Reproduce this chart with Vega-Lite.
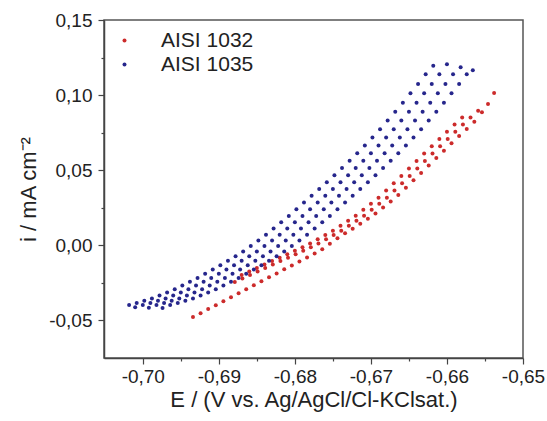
{
  "$schema": "https://vega.github.io/schema/vega-lite/v6.json",
  "width": 419,
  "height": 338,
  "autosize": {"type": "none"},
  "padding": {"left": 104, "top": 20, "right": 24, "bottom": 63},
  "background": "white",
  "datasets": {
    "r1032": [
      {"E": -0.6870, "i": -0.0200}, {"E": -0.6860, "i": -0.0177}, {"E": -0.6850, "i": -0.0153}, {"E": -0.6840, "i": -0.0130},
      {"E": -0.6830, "i": -0.0107}, {"E": -0.6820, "i": -0.0085}, {"E": -0.6810, "i": -0.0062}, {"E": -0.6800, "i": -0.0038},
      {"E": -0.6790, "i": -0.0014}, {"E": -0.6780, "i": 0.0010}, {"E": -0.6770, "i": 0.0038}, {"E": -0.6760, "i": 0.0067},
      {"E": -0.6750, "i": 0.0095}, {"E": -0.6740, "i": 0.0128}, {"E": -0.6730, "i": 0.0162}, {"E": -0.6720, "i": 0.0195},
      {"E": -0.6710, "i": 0.0235}, {"E": -0.6700, "i": 0.0275}, {"E": -0.6690, "i": 0.0315}, {"E": -0.6680, "i": 0.0363},
      {"E": -0.6670, "i": 0.0412}, {"E": -0.6660, "i": 0.0460}, {"E": -0.6650, "i": 0.0510}, {"E": -0.6640, "i": 0.0560},
      {"E": -0.6630, "i": 0.0610}, {"E": -0.6620, "i": 0.0658}, {"E": -0.6610, "i": 0.0707}, {"E": -0.6600, "i": 0.0755},
      {"E": -0.6590, "i": 0.0803}, {"E": -0.6580, "i": 0.0850},
      {"E": -0.6879, "i": -0.0247}, {"E": -0.6869, "i": -0.0223}, {"E": -0.6859, "i": -0.0200}, {"E": -0.6849, "i": -0.0177},
      {"E": -0.6839, "i": -0.0153}, {"E": -0.6829, "i": -0.0130}, {"E": -0.6819, "i": -0.0107}, {"E": -0.6809, "i": -0.0085},
      {"E": -0.6799, "i": -0.0062}, {"E": -0.6789, "i": -0.0038}, {"E": -0.6779, "i": -0.0014}, {"E": -0.6769, "i": 0.0010},
      {"E": -0.6759, "i": 0.0038}, {"E": -0.6749, "i": 0.0067}, {"E": -0.6739, "i": 0.0095}, {"E": -0.6729, "i": 0.0128},
      {"E": -0.6719, "i": 0.0162}, {"E": -0.6709, "i": 0.0195}, {"E": -0.6699, "i": 0.0235}, {"E": -0.6689, "i": 0.0275},
      {"E": -0.6679, "i": 0.0315}, {"E": -0.6669, "i": 0.0363}, {"E": -0.6659, "i": 0.0412}, {"E": -0.6649, "i": 0.0460},
      {"E": -0.6639, "i": 0.0510}, {"E": -0.6629, "i": 0.0560}, {"E": -0.6619, "i": 0.0610}, {"E": -0.6609, "i": 0.0658},
      {"E": -0.6599, "i": 0.0707}, {"E": -0.6589, "i": 0.0755}, {"E": -0.6579, "i": 0.0803}, {"E": -0.6569, "i": 0.0850},
      {"E": -0.6559, "i": 0.0895},
      {"E": -0.6934, "i": -0.0480}, {"E": -0.6924, "i": -0.0454}, {"E": -0.6914, "i": -0.0427}, {"E": -0.6904, "i": -0.0401},
      {"E": -0.6894, "i": -0.0374}, {"E": -0.6884, "i": -0.0348}, {"E": -0.6874, "i": -0.0321}, {"E": -0.6864, "i": -0.0295},
      {"E": -0.6854, "i": -0.0268}, {"E": -0.6844, "i": -0.0242}, {"E": -0.6834, "i": -0.0215}, {"E": -0.6824, "i": -0.0189},
      {"E": -0.6814, "i": -0.0162}, {"E": -0.6804, "i": -0.0136}, {"E": -0.6794, "i": -0.0109}, {"E": -0.6784, "i": -0.0083},
      {"E": -0.6774, "i": -0.0056}, {"E": -0.6764, "i": -0.0028}, {"E": -0.6754, "i": 0.0008}, {"E": -0.6744, "i": 0.0045},
      {"E": -0.6734, "i": 0.0078}, {"E": -0.6724, "i": 0.0108}, {"E": -0.6714, "i": 0.0142}, {"E": -0.6704, "i": 0.0175},
      {"E": -0.6694, "i": 0.0211}, {"E": -0.6684, "i": 0.0251}, {"E": -0.6674, "i": 0.0291}, {"E": -0.6664, "i": 0.0334},
      {"E": -0.6654, "i": 0.0382}, {"E": -0.6644, "i": 0.0431}, {"E": -0.6634, "i": 0.0480}, {"E": -0.6624, "i": 0.0530},
      {"E": -0.6614, "i": 0.0580}, {"E": -0.6604, "i": 0.0629}, {"E": -0.6594, "i": 0.0678}, {"E": -0.6584, "i": 0.0726},
      {"E": -0.6574, "i": 0.0774}, {"E": -0.6564, "i": 0.0822}, {"E": -0.6554, "i": 0.0885}, {"E": -0.6546, "i": 0.0940},
      {"E": -0.6538, "i": 0.1013}
    ],
    "r1035": [
      {"E": -0.7018, "i": -0.0400}, {"E": -0.7008, "i": -0.0386}, {"E": -0.6998, "i": -0.0371}, {"E": -0.6988, "i": -0.0356},
      {"E": -0.6978, "i": -0.0336}, {"E": -0.6968, "i": -0.0316}, {"E": -0.6958, "i": -0.0295}, {"E": -0.6948, "i": -0.0270},
      {"E": -0.6938, "i": -0.0245}, {"E": -0.6928, "i": -0.0219}, {"E": -0.6918, "i": -0.0191}, {"E": -0.6908, "i": -0.0163},
      {"E": -0.6898, "i": -0.0134}, {"E": -0.6888, "i": -0.0104}, {"E": -0.6878, "i": -0.0074}, {"E": -0.6868, "i": -0.0043},
      {"E": -0.6858, "i": -0.0006}, {"E": -0.6848, "i": 0.0031}, {"E": -0.6838, "i": 0.0068}, {"E": -0.6828, "i": 0.0110},
      {"E": -0.6818, "i": 0.0152}, {"E": -0.6808, "i": 0.0194}, {"E": -0.6798, "i": 0.0239}, {"E": -0.6788, "i": 0.0284},
      {"E": -0.6778, "i": 0.0329}, {"E": -0.6768, "i": 0.0374}, {"E": -0.6758, "i": 0.0419}, {"E": -0.6748, "i": 0.0465},
      {"E": -0.6738, "i": 0.0513}, {"E": -0.6728, "i": 0.0561}, {"E": -0.6718, "i": 0.0611}, {"E": -0.6708, "i": 0.0664},
      {"E": -0.6698, "i": 0.0717}, {"E": -0.6688, "i": 0.0772}, {"E": -0.6678, "i": 0.0830}, {"E": -0.6668, "i": 0.0888},
      {"E": -0.6658, "i": 0.0948}, {"E": -0.6648, "i": 0.1011}, {"E": -0.6638, "i": 0.1074}, {"E": -0.6628, "i": 0.1139},
      {"E": -0.6618, "i": 0.1195},
      {"E": -0.7010, "i": -0.0415},
      {"E": -0.7000, "i": -0.0400}, {"E": -0.6990, "i": -0.0386}, {"E": -0.6980, "i": -0.0371}, {"E": -0.6970, "i": -0.0356},
      {"E": -0.6960, "i": -0.0336}, {"E": -0.6950, "i": -0.0316}, {"E": -0.6940, "i": -0.0295}, {"E": -0.6930, "i": -0.0270},
      {"E": -0.6920, "i": -0.0245}, {"E": -0.6910, "i": -0.0219}, {"E": -0.6900, "i": -0.0191}, {"E": -0.6890, "i": -0.0163},
      {"E": -0.6880, "i": -0.0134}, {"E": -0.6870, "i": -0.0104}, {"E": -0.6860, "i": -0.0074}, {"E": -0.6850, "i": -0.0043},
      {"E": -0.6840, "i": -0.0006}, {"E": -0.6830, "i": 0.0031}, {"E": -0.6820, "i": 0.0068}, {"E": -0.6810, "i": 0.0110},
      {"E": -0.6800, "i": 0.0152}, {"E": -0.6790, "i": 0.0194}, {"E": -0.6780, "i": 0.0239}, {"E": -0.6770, "i": 0.0284},
      {"E": -0.6760, "i": 0.0329}, {"E": -0.6750, "i": 0.0374}, {"E": -0.6740, "i": 0.0419}, {"E": -0.6730, "i": 0.0465},
      {"E": -0.6720, "i": 0.0513}, {"E": -0.6710, "i": 0.0561}, {"E": -0.6700, "i": 0.0611}, {"E": -0.6690, "i": 0.0664},
      {"E": -0.6680, "i": 0.0717}, {"E": -0.6670, "i": 0.0772}, {"E": -0.6660, "i": 0.0830}, {"E": -0.6650, "i": 0.0888},
      {"E": -0.6640, "i": 0.0948}, {"E": -0.6630, "i": 0.1011}, {"E": -0.6620, "i": 0.1074}, {"E": -0.6610, "i": 0.1139},
      {"E": -0.6600, "i": 0.1205},
      {"E": -0.6992, "i": -0.0418},
      {"E": -0.6982, "i": -0.0400}, {"E": -0.6972, "i": -0.0386}, {"E": -0.6962, "i": -0.0371}, {"E": -0.6952, "i": -0.0356},
      {"E": -0.6942, "i": -0.0336}, {"E": -0.6932, "i": -0.0316}, {"E": -0.6922, "i": -0.0295}, {"E": -0.6912, "i": -0.0270},
      {"E": -0.6902, "i": -0.0245}, {"E": -0.6892, "i": -0.0219}, {"E": -0.6882, "i": -0.0191}, {"E": -0.6872, "i": -0.0163},
      {"E": -0.6862, "i": -0.0134}, {"E": -0.6852, "i": -0.0104}, {"E": -0.6842, "i": -0.0074}, {"E": -0.6832, "i": -0.0043},
      {"E": -0.6822, "i": -0.0006}, {"E": -0.6812, "i": 0.0031}, {"E": -0.6802, "i": 0.0068}, {"E": -0.6792, "i": 0.0110},
      {"E": -0.6782, "i": 0.0152}, {"E": -0.6772, "i": 0.0194}, {"E": -0.6762, "i": 0.0239}, {"E": -0.6752, "i": 0.0284},
      {"E": -0.6742, "i": 0.0329}, {"E": -0.6732, "i": 0.0374}, {"E": -0.6722, "i": 0.0419}, {"E": -0.6712, "i": 0.0465},
      {"E": -0.6702, "i": 0.0513}, {"E": -0.6692, "i": 0.0561}, {"E": -0.6682, "i": 0.0611}, {"E": -0.6672, "i": 0.0664},
      {"E": -0.6662, "i": 0.0717}, {"E": -0.6652, "i": 0.0772}, {"E": -0.6642, "i": 0.0830}, {"E": -0.6632, "i": 0.0888},
      {"E": -0.6622, "i": 0.0948}, {"E": -0.6612, "i": 0.1011}, {"E": -0.6602, "i": 0.1074}, {"E": -0.6592, "i": 0.1139},
      {"E": -0.6582, "i": 0.1185},
      {"E": -0.6974, "i": -0.0420},
      {"E": -0.6964, "i": -0.0400}, {"E": -0.6954, "i": -0.0386}, {"E": -0.6944, "i": -0.0371}, {"E": -0.6934, "i": -0.0356},
      {"E": -0.6924, "i": -0.0336}, {"E": -0.6914, "i": -0.0316}, {"E": -0.6904, "i": -0.0295}, {"E": -0.6894, "i": -0.0270},
      {"E": -0.6884, "i": -0.0245}, {"E": -0.6874, "i": -0.0219}, {"E": -0.6864, "i": -0.0191}, {"E": -0.6854, "i": -0.0163},
      {"E": -0.6844, "i": -0.0134}, {"E": -0.6834, "i": -0.0104}, {"E": -0.6824, "i": -0.0074}, {"E": -0.6814, "i": -0.0043},
      {"E": -0.6804, "i": -0.0006}, {"E": -0.6794, "i": 0.0031}, {"E": -0.6784, "i": 0.0068}, {"E": -0.6774, "i": 0.0110},
      {"E": -0.6764, "i": 0.0152}, {"E": -0.6754, "i": 0.0194}, {"E": -0.6744, "i": 0.0239}, {"E": -0.6734, "i": 0.0284},
      {"E": -0.6724, "i": 0.0329}, {"E": -0.6714, "i": 0.0374}, {"E": -0.6704, "i": 0.0419}, {"E": -0.6694, "i": 0.0465},
      {"E": -0.6684, "i": 0.0513}, {"E": -0.6674, "i": 0.0561}, {"E": -0.6664, "i": 0.0611}, {"E": -0.6654, "i": 0.0664},
      {"E": -0.6644, "i": 0.0717}, {"E": -0.6634, "i": 0.0772}, {"E": -0.6624, "i": 0.0830}, {"E": -0.6614, "i": 0.0888},
      {"E": -0.6604, "i": 0.0948}, {"E": -0.6594, "i": 0.1011}, {"E": -0.6584, "i": 0.1074}, {"E": -0.6574, "i": 0.1139},
      {"E": -0.6566, "i": 0.1165}
    ]
  },
  "encoding": {
    "x": {
      "field": "E", "type": "quantitative",
      "scale": {"domain": [-0.7051, -0.65], "nice": false, "zero": false},
      "axis": {
        "title": "E / (V vs. Ag/AgCl/Cl-KClsat.)",
        "values": [-0.70, -0.695, -0.69, -0.685, -0.68, -0.675, -0.67, -0.665, -0.66, -0.655, -0.65],
        "format": ".2f",
        "labelExpr": "abs(datum.value*100 - round(datum.value*100)) < 0.01 ? datum.label : ''",
        "tickSize": {"condition": {"test": "abs(datum.value*100 - round(datum.value*100)) < 0.01", "value": 6}, "value": 3},
        "labelFlush": false,
        "labelOverlap": false,
        "labelPadding": 3,
        "titlePadding": 3
      }
    },
    "y": {
      "field": "i", "type": "quantitative",
      "scale": {"domain": [-0.0753, 0.15], "nice": false, "zero": false},
      "axis": {
        "title": "i / mA cm⁻²",
        "values": [-0.05, -0.025, 0, 0.025, 0.05, 0.075, 0.1, 0.125, 0.15],
        "format": ".2f",
        "labelExpr": "abs(datum.value*20 - round(datum.value*20)) < 0.01 ? datum.label : ''",
        "tickSize": {"condition": {"test": "abs(datum.value*20 - round(datum.value*20)) < 0.01", "value": 6}, "value": 3},
        "labelFlush": false,
        "labelOverlap": false,
        "labelPadding": 6,
        "titlePadding": 8
      }
    }
  },
  "layer": [
    {
      "data": {"name": "r1032"},
      "mark": {"type": "circle", "size": 16, "opacity": 1},
      "encoding": {
        "color": {
          "datum": "AISI 1032",
          "scale": {"domain": ["AISI 1032", "AISI 1035"], "range": ["#cc2b2b", "#26268c"]},
          "legend": {"orient": "none", "legendX": 10, "legendY": 10, "title": null}
        }
      }
    },
    {
      "data": {"name": "r1035"},
      "mark": {"type": "circle", "size": 16, "opacity": 1},
      "encoding": {
        "color": {"datum": "AISI 1035"}
      }
    }
  ],
  "config": {
    "locale": {"number": {"decimal": ",", "thousands": ".", "grouping": [3], "currency": ["", ""], "minus": "-"}},
    "view": {"stroke": "#555", "strokeWidth": 1.5},
    "axis": {
      "grid": false,
      "domainColor": "#444", "domainWidth": 1.5,
      "tickColor": "#444", "tickWidth": 1.2,
      "labelFont": "Liberation Sans", "labelFontSize": 19, "labelColor": "#222",
      "titleFont": "Liberation Sans", "titleFontSize": 22, "titleFontWeight": "normal", "titleColor": "#222"
    },
    "legend": {
      "labelFont": "Liberation Sans", "labelFontSize": 21, "labelColor": "#222",
      "symbolType": "circle", "symbolSize": 16, "labelOffset": 26, "rowPadding": 2, "padding": 0
    }
  }
}
